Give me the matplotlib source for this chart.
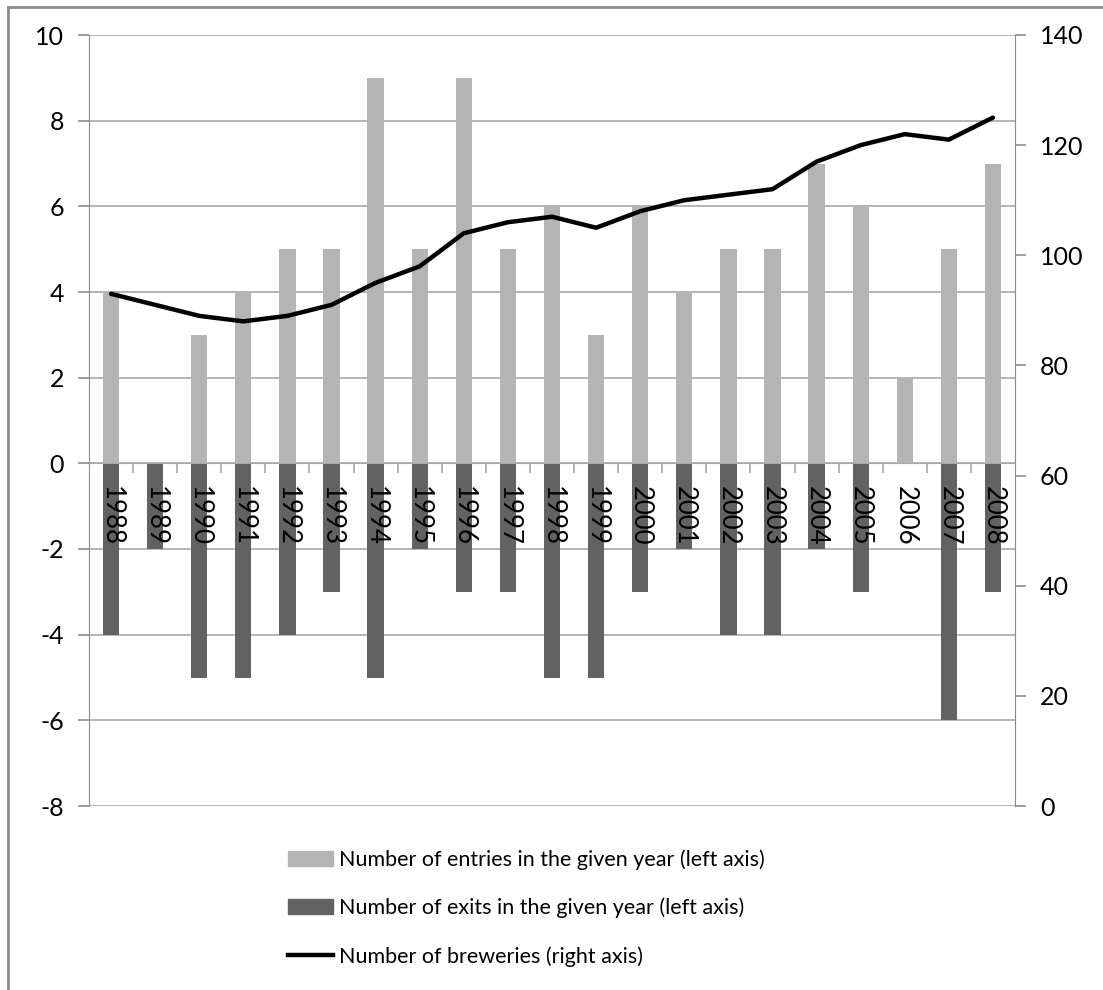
import matplotlib.pyplot as plt
from matplotlib.lines import Line2D
from matplotlib.patches import Patch
import matplotlib.transforms as mtransforms

years = [1988, 1989, 1990, 1991, 1992, 1993, 1994, 1995, 1996, 1997, 1998,
         1999, 2000, 2001, 2002, 2003, 2004, 2005, 2006, 2007, 2008]
entries = [4, 0, 3, 4, 5, 5, 9, 5, 9, 5, 6, 3, 6, 4, 5, 5, 7, 6, 2, 5, 7]
exits = [-4, -2, -5, -5, -4, -3, -5, -2, -3, -3, -5, -5, -3, -2, -4, -4, -2, -3, 0, -6, -3]
breweries = [93, 91, 89, 88, 89, 91, 95, 98, 104, 106, 107, 105, 108, 110,
             111, 112, 117, 120, 122, 121, 125]

LIGHT = '#b4b4b4'
DARK = '#626262'
GRID = '#a8a8a8'
SPINE = '#8c8c8c'

plt.rcParams['font.family'] = ['Lato', 'DejaVu Sans']
plt.rcParams['axes.unicode_minus'] = False

fig = plt.figure(figsize=(11.03, 9.9), dpi=100)
ax = fig.add_axes([89 / 1103, 1 - 806 / 990, (1015 - 89) / 1103, (806 - 35) / 990])

x = list(range(len(years)))
ax.bar(x, entries, width=0.37, color=LIGHT, zorder=2)
ax.bar(x, exits, width=0.37, color=DARK, zorder=2)

ax.set_xlim(-0.5, len(years) - 0.5)
ax.set_ylim(-8, 10)
ax.set_yticks(range(-8, 11, 2))
ax.yaxis.grid(True, color=GRID, linewidth=1.2)
ax.set_axisbelow(True)

# category axis sits on the zero line, ticks between the bars
ax.spines['bottom'].set_position(('data', 0))
ax.spines['bottom'].set_color(GRID)
ax.spines['top'].set_visible(False)
ax.spines['right'].set_visible(False)
ax.spines['left'].set_color(SPINE)
ax.set_xticks([i + 0.5 for i in x[:-1]])
ax.set_xticklabels([])
ax.tick_params(axis='x', direction='out', length=7, color=GRID, width=1.2)
ax.tick_params(axis='y', direction='out', length=8, color=SPINE, width=1.2,
               pad=10, labelsize=18)

offset = mtransforms.offset_copy(ax.transData, fig=fig, x=0, y=-23, units='dots')
for i, yr in enumerate(years):
    ax.text(i, 0, str(yr), rotation=-90, ha='center', va='top',
            fontsize=18.5, transform=offset, zorder=3)

ax2 = ax.twinx()
ax2.plot(x, breweries, color='black', linewidth=3.2, solid_joinstyle='round',
         solid_capstyle='round')
ax2.set_ylim(0, 140)
ax2.set_yticks(range(0, 141, 20))
for side in ['top', 'bottom', 'left']:
    ax2.spines[side].set_visible(False)
ax2.spines['right'].set_color(SPINE)
ax2.tick_params(axis='y', direction='out', length=8, color=SPINE, width=1.2,
                pad=10, labelsize=18)

handles = [Patch(color=LIGHT), Patch(color=DARK),
           Line2D([], [], color='black', linewidth=3.2)]
labels = ['Number of entries in the given year (left axis)',
          'Number of exits in the given year (left axis)',
          'Number of breweries (right axis)']
fig.legend(handles, labels, loc='upper left', bbox_to_anchor=(288 / 1103, 1 - 849 / 990),
           frameon=False, fontsize=15.5, handlelength=2.1, handletextpad=0.25,
           labelspacing=1.3, borderpad=0, borderaxespad=0)

# outer frame along the left and top edges
fig.add_artist(Line2D([8 / 1103, 8 / 1103], [0, 1 - 7 / 990], color=SPINE, linewidth=2))
fig.add_artist(Line2D([8 / 1103, 1], [1 - 7 / 990, 1 - 7 / 990], color=SPINE, linewidth=2))

fig.savefig('out.png', dpi=100)
